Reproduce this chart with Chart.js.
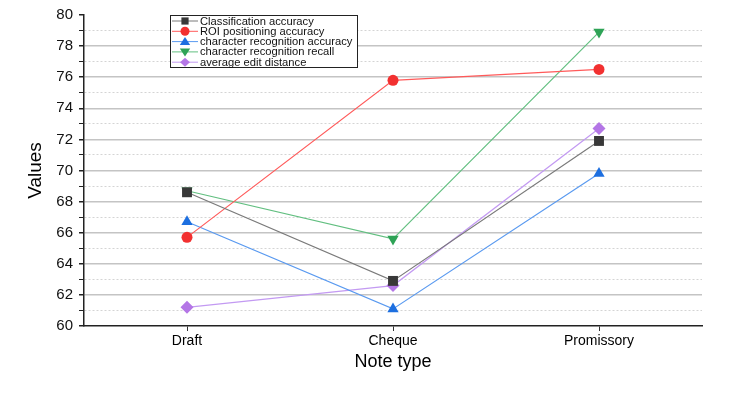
<!DOCTYPE html>
<html>
<head>
<meta charset="utf-8">
<script src="https://cdn.jsdelivr.net/npm/chart.js@4/dist/chart.umd.min.js"></script>
<style>
  html, body { margin: 0; padding: 0; background: #fff; }
  #wrap { width: 736px; height: 393px; }
</style>
</head>
<body>
<div id="wrap"><canvas id="chart" width="736" height="393"></canvas></div>
<script>
// Data
var noteTypes = ['Draft', 'Cheque', 'Promissory'];
var classificationAcc = [68.6, 62.9, 71.9];
var roiAcc = [65.7, 75.8, 76.5];
var charRecAcc = [66.7, 61.1, 69.8];
var charRecRecall = [68.7, 65.6, 78.9];
var editDistance = [61.2, 62.6, 72.7];
var yMin = 60, yMax = 80;

var SERIES = [
    { label: 'Classification accuracy', data: classificationAcc, line: '#7a7a7a', fill: '#383838', style: 'rect', radius: 7, rot: 0 },
    { label: 'ROI positioning accuracy', data: roiAcc, line: '#ff5a5a', fill: '#f23030', style: 'circle', radius: 5.5, rot: 0 },
    { label: 'character recognition accuracy', data: charRecAcc, line: '#5a9af0', fill: '#1d6fe0', style: 'triangle', radius: 6.5, rot: 0 },
    { label: 'character recognition recall', data: charRecRecall, line: '#62bf80', fill: '#2ea356', style: 'triangle', radius: 6.5, rot: 180 },
    { label: 'average edit distance', data: editDistance, line: '#c39af2', fill: '#b476e6', style: 'rectRot', radius: 6.5, rot: 0 }
];

var FONT = "'Liberation Sans', Arial, sans-serif";

function drawMarker(ctx, s, x, y, r) {
    ctx.save();
    ctx.fillStyle = s.fill;
    ctx.translate(x, y);
    ctx.rotate(s.rot * Math.PI / 180);
    ctx.beginPath();
    if (s.style === 'rect') {
        ctx.rect(-r * 0.8, -r * 0.8, 1.6 * r, 1.6 * r);
    } else if (s.style === 'circle') {
        ctx.arc(0, 0, r, 0, Math.PI * 2);
    } else if (s.style === 'triangle') {
        ctx.moveTo(0, -r);
        ctx.lineTo(r * 1.15, r * 0.75);
        ctx.lineTo(-r * 1.15, r * 0.75);
        ctx.closePath();
    } else {
        ctx.moveTo(0, -r); ctx.lineTo(r * 1.1, 0); ctx.lineTo(0, r); ctx.lineTo(-r * 1.1, 0); ctx.closePath();
    }
    ctx.fill();
    ctx.restore();
}

// legend box drawn inside the plot area, like the original
var boxLegend = {
    id: 'boxLegend',
    afterDraw: function(chart) {
        var ctx = chart.ctx;
        var x0 = 170, y0 = 15, w = 187, h = 52, rowH = 10.3;
        ctx.save();
        ctx.fillStyle = '#fff';
        ctx.fillRect(x0, y0, w, h);
        ctx.strokeStyle = '#222';
        ctx.lineWidth = 1;
        ctx.strokeRect(x0 + 0.5, y0 + 0.5, w, h);
        ctx.font = '11.2px ' + FONT;
        ctx.textBaseline = 'middle';
        SERIES.forEach(function(s, i) {
            var y = y0 + 6 + i * rowH;
            ctx.strokeStyle = s.line;
            ctx.lineWidth = 1;
            ctx.beginPath();
            ctx.moveTo(x0 + 2, y);
            ctx.lineTo(x0 + 28, y);
            ctx.stroke();
            drawMarker(ctx, s, x0 + 15, y, 4.5);
            ctx.fillStyle = '#111';
            ctx.fillText(s.label, x0 + 30, y + 0.5);
        });
        ctx.restore();
    }
};

new Chart(document.getElementById('chart'), {
    type: 'line',
    data: {
        labels: noteTypes,
        datasets: SERIES.map(function(s) {
            return {
                label: s.label,
                data: s.data,
                borderColor: s.line,
                borderWidth: 1.2,
                backgroundColor: s.fill,
                pointStyle: s.style,
                pointRadius: s.radius,
                pointRotation: s.rot,
                pointBorderWidth: 0,
                pointBorderColor: s.fill,
                tension: 0,
                fill: false
            };
        })
    },
    options: {
        responsive: false,
        animation: false,
        layout: { padding: { left: 20, right: 34, top: 12, bottom: 16 } },
        plugins: { legend: { display: false }, tooltip: { enabled: false } },
        scales: {
            x: {
                offset: true,
                grid: { drawOnChartArea: false, offset: false, tickLength: 5, tickColor: '#333' },
                border: { color: '#222', width: 1.5 },
                ticks: { color: '#000', padding: 2, font: { family: FONT, size: 14 } },
                title: { display: true, text: 'Note type', color: '#000', padding: { top: 4, bottom: 4 }, font: { family: FONT, size: 18 } },
                afterFit: function(scale) { scale.height = 51; }
            },
            y: {
                min: yMin,
                max: yMax,
                ticks: {
                    stepSize: 1,
                    autoSkip: false,
                    color: '#111',
                    padding: 6,
                    font: { family: FONT, size: 15 },
                    callback: function(v) { return v % 2 === 0 ? v : ''; }
                },
                grid: {
                    color: function(c) {
                        if (!c.tick || c.tick.value === yMin || c.tick.value === yMax) return 'rgba(0,0,0,0)';
                        return c.tick.value % 2 === 0 ? '#c4c4c4' : '#d4d4d4';
                    },
                    lineWidth: function(c) { return (c.tick && c.tick.value % 2 === 0) ? 1.5 : 1; },
                    tickColor: '#222',
                    tickLength: 5
                },
                border: {
                    color: '#222',
                    width: 1.5,
                    dash: function(c) { return (c.tick && c.tick.value % 2 !== 0) ? [2, 2] : []; }
                },
                title: { display: true, text: 'Values', color: '#000', padding: { top: 4, bottom: 4 }, font: { family: FONT, size: 19 } },
                afterFit: function(scale) { scale.width = 64; }
            }
        }
    },
    plugins: [boxLegend]
});
</script>
</body>
</html>
